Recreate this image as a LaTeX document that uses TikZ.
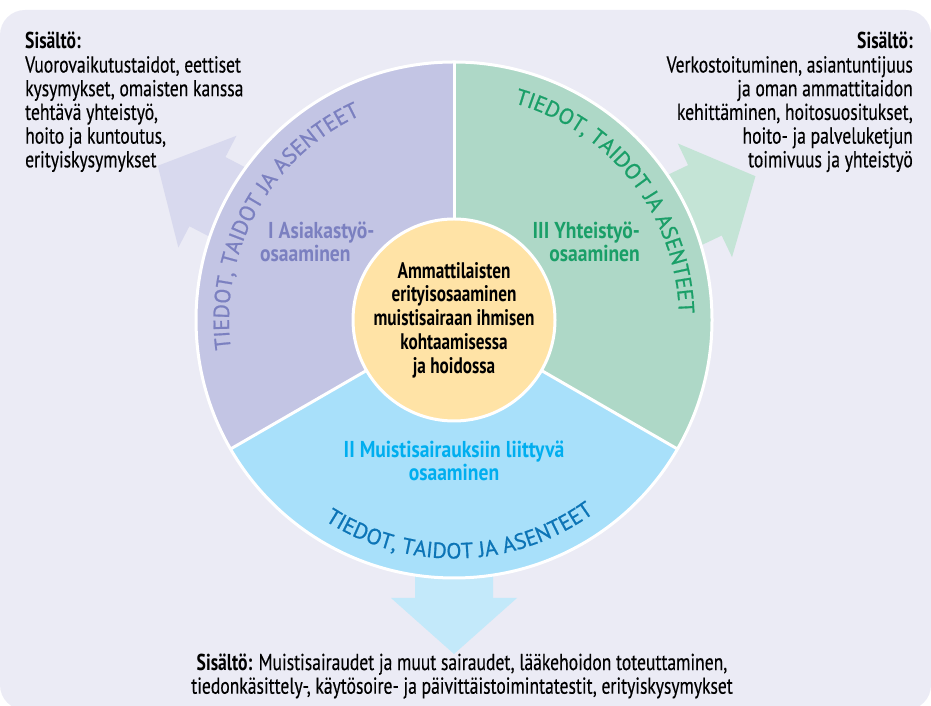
\documentclass[tikz,border=0pt]{standalone}
\usepackage{fontspec}
\setmainfont[FakeStretch=0.765, UprightFeatures={FakeBold=0.35}]{PT Sans}
\newfontfamily\arcfamily[FakeBold=0.8]{PT Sans}
\newfontfamily\labelfamily[FakeStretch=0.85]{PT Sans}
\usetikzlibrary{decorations.text}
\definecolor{bgcol}{HTML}{EBEBF5}
\definecolor{purpleseg}{HTML}{C3C5E4}
\definecolor{purpletxt}{HTML}{7B80C0}
\definecolor{purplearrow}{HTML}{D8D9EE}
\definecolor{greenseg}{HTML}{AED8C7}
\definecolor{greentxt}{HTML}{1A9F68}
\definecolor{greenarrow}{HTML}{C4E4D6}
\definecolor{blueseg}{HTML}{A8E0FA}
\definecolor{cyantxt}{HTML}{00AEEF}
\definecolor{bluetxt}{HTML}{0C74B6}
\definecolor{bluearrow}{HTML}{C3E9FA}
\definecolor{corefill}{HTML}{FFE3A6}
\tikzset{
  bodytext/.style={font=\fontsize{23}{23.7}\selectfont, inner sep=0pt, text=black},
  seglabel/.style={font=\labelfamily\bfseries\fontsize{23}{22.5}\selectfont, inner sep=0pt},
  divider/.style={white, line width=3pt},
}
\newcommand{\arcfont}{\arcfamily\fontsize{22}{22}\selectfont}
\begin{document}
\begin{tikzpicture}[x=1pt,y=1pt]
\useasboundingbox (0,0) rectangle (931,706);
\fill[bgcol, rounded corners=25pt] (0,-4) rectangle (931,696);
\begin{scope}[shift={(454,386)}]
  % arrows
  \foreach \ang/\col in {152.5/purplearrow, 25.5/greenarrow, 270/bluearrow}{
    \fill[\col, rotate=\ang] (0,-39) -- (278,-39) -- (278,-63) -- (334,0) -- (278,63) -- (278,39) -- (0,39) -- cycle;
  }
  % segments
  \fill[purpleseg] (0,0) -- (90:258) arc[start angle=90, end angle=210, radius=258] -- cycle;
  \fill[greenseg] (0,0) -- (-30:258) arc[start angle=-30, end angle=90, radius=258] -- cycle;
  \fill[blueseg] (0,0) -- (210:258) arc[start angle=210, end angle=330, radius=258] -- cycle;
  \draw[white, line width=3pt] (0,0) circle[radius=258];
  \draw[divider] (90:100) -- (90:258);
  \draw[divider] (210:100) -- (210:258);
  \draw[divider] (330:100) -- (330:258);
  % curved texts
  \path[decorate, decoration={text along path, text align=center,
    text={|\arcfont\color{purpletxt}|TIEDOT, TAIDOT JA ASENTEET}}]
    (201:225) arc[start angle=201, end angle=101, radius=225];
  \path[decorate, decoration={text along path, text align=center,
    text={|\arcfont\color{greentxt}|TIEDOT, TAIDOT JA ASENTEET}}]
    (88:225) arc[start angle=88, end angle=-12, radius=225];
  \path[decorate, decoration={text along path, text align=center,
    text={|\arcfont\color{bluetxt}|TIEDOT, TAIDOT JA ASENTEET}}]
    (221.6:238.5) arc[start angle=221.6, end angle=321.6, radius=238.5];
\end{scope}
% core
\node[circle, fill=corefill, draw=white, line width=3pt, minimum size=202pt, inner sep=0pt,
      align=center, font=\bfseries\fontsize{22.5}{23.8}\selectfont] (core) at (454,386)
  {Ammattilaisten\\erityisosaaminen\\muistisairaan ihmisen\\kohtaamisessa\\ja hoidossa};
% segment labels
\node[seglabel, text=purpletxt, align=left, anchor=west] (seg1) at (268,464) {I Asiakastyö-\\\hspace*{-8pt}osaaminen};
\node[seglabel, text=greentxt, align=right, anchor=east] (seg3) at (640,464) {III Yhteistyö-\\osaaminen};
\node[seglabel, text=cyantxt, align=center] (seg2) at (454,245) {II Muistisairauksiin liittyvä\\osaaminen};
% content texts
\node[bodytext, align=left, anchor=north west] (cont1) at (25,674)
  {\textbf{Sisältö:}\\Vuorovaikutustaidot, eettiset\\kysymykset, omaisten kanssa\\tehtävä yhteistyö,\\hoito ja kuntoutus,\\erityiskysymykset};
\node[bodytext, align=right, anchor=north east] (cont3) at (913,674)
  {\textbf{Sisältö:}\\Verkostoituminen, asiantuntijuus\\ja oman ammattitaidon\\kehittäminen, hoitosuositukset,\\hoito- ja palveluketjun\\toimivuus ja yhteistyö};
\node[bodytext, align=center] (cont2) at (462,30)
  {\textbf{Sisältö:} Muistisairaudet ja muut sairaudet, lääkehoidon toteuttaminen,\\tiedonkäsittely-, käytösoire- ja päivittäistoimintatestit, erityiskysymykset};
\end{tikzpicture}
\end{document}
